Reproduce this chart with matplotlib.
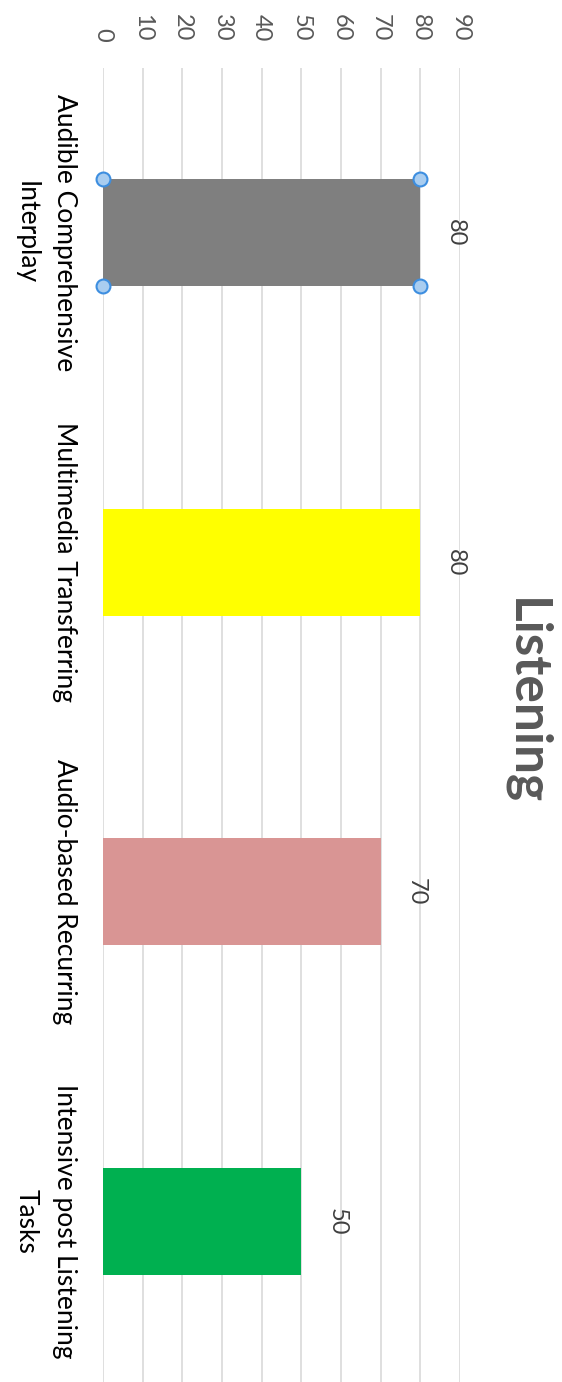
import numpy as np
import matplotlib
matplotlib.use("Agg")
import matplotlib.pyplot as plt

categories = ["Audible Comprehensive\nInterplay", "Multimedia Transferring",
              "Audio-based Recurring", "Intensive post Listening\nTasks"]
values = [80, 80, 70, 50]
colors = ["#7f7f7f", "#ffff00", "#d99594", "#00b050"]
ticks = list(range(0, 100, 10))

plt.rcParams['font.family'] = ['Lato', 'DejaVu Sans']

fig = plt.figure(figsize=(5.62, 13.82), dpi=100)
W, H = 562, 1382
ax = fig.add_axes([103 / W, -4 / H, (460 - 103) / W, (1386 - 68) / H])

pos = np.arange(len(categories))
bh = 0.325
ax.barh(pos, values, height=bh, color=colors, zorder=3)
ax.set_xlim(0, 90)
ax.set_ylim(len(categories) - 0.5, -0.5)
ax.set_xticks(ticks)
ax.xaxis.tick_top()
ax.tick_params(axis='x', length=0, pad=19, labelsize=17, labelcolor='#595959')
for lab in ax.get_xticklabels():
    lab.set_rotation(-90)
ax.set_yticks(pos)
ax.set_yticklabels(categories, rotation=-90, ha='right', va='center',
                   multialignment='center', linespacing=1.65, fontsize=19)
ax.tick_params(axis='y', length=0, pad=19, labelcolor='#000000')
ax.grid(axis='x', color='#d9d9d9', lw=1.2, zorder=0)
for s in ax.spines.values():
    s.set_visible(False)

# value labels
for p, v in zip(pos, values):
    ax.annotate(str(v), (v, p), xytext=(18, 0), textcoords='offset points',
                rotation=-90, ha='left', va='center', fontsize=17, color='#404040')

# selection handles on first bar
hx = [0, values[0], 0, values[0]]
hy = [-bh / 2, -bh / 2, bh / 2, bh / 2]
ax.plot(hx, hy, 'o', ms=10, mfc='#a9cdf0', mec='#3d8ee0', mew=1.5, zorder=5, clip_on=False)

fig.text(526 / W, 1 - 702 / H, "Listening", rotation=-90, ha='center', va='center',
         fontsize=37, fontweight='bold', color='#595959')

fig.savefig("out.png", dpi=100)
